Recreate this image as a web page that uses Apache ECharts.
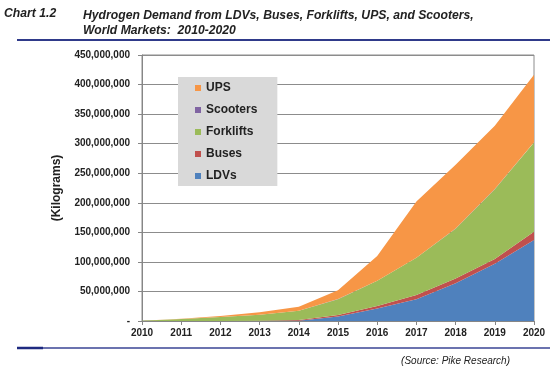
<!DOCTYPE html>
<html>
<head>
<meta charset="utf-8">
<script src="https://cdn.jsdelivr.net/npm/echarts@6/dist/echarts.min.js"></script>
<style>
html,body{margin:0;padding:0;background:#fff;}
#c{width:550px;height:370px;}
</style>
</head>
<body>
<div id="c"></div>
<script>
const years = ['2010','2011','2012','2013','2014','2015','2016','2017','2018','2019','2020'];
const ldvs = [0,0,0,0,500000,7500000,21000000,37000000,64000000,97000000,137000000];
const buses = [50000,100000,200000,300000,1000000,2500000,4500000,7000000,8000000,8000000,14000000];
const forklifts = [500000,3300000,6600000,10400000,16000000,27000000,42500000,63000000,84000000,118000000,151000000];
const scooters = [0,0,0,0,10000,50000,100000,200000,300000,400000,500000];
const ups = [0,600000,1700000,4300000,6500000,15000000,42000000,95000000,108000000,107000000,114000000];
const legendOrder = ['UPS','Scooters','Forklifts','Buses','LDVs'];
const yTicks = {min:0, max:450000000, interval:50000000};

const FONT = 'Liberation Sans, Arial, sans-serif';
const TXT = '#222222';
const chart = echarts.init(document.getElementById('c'), null, {renderer:'canvas'});

function area(name, data, color){
  return {
    name, type:'line', stack:'total', data,
    symbol:'none', showSymbol:false,
    lineStyle:{width:0}, itemStyle:{color},
    areaStyle:{color, opacity:1},
    emphasis:{disabled:true}
  };
}

chart.setOption({
  animation:false,
  textStyle:{fontFamily:FONT},
  grid:{left:142, right:16, top:55, bottom:49, show:true, borderColor:'#8c8c8c', borderWidth:1, backgroundColor:'transparent'},
  legend:{
    data:legendOrder, orient:'vertical', left:178, top:77,
    backgroundColor:'#d9d9d9', padding:[4,20,3,17],
    icon:'rect', itemWidth:6, itemHeight:6, itemGap:8,
    textStyle:{fontFamily:FONT, fontSize:12, fontWeight:'bold', color:TXT, lineHeight:14}
  },
  xAxis:{
    type:'category', data:years, boundaryGap:false,
    axisLine:{lineStyle:{color:'#868686'}},
    axisTick:{show:true, length:4, lineStyle:{color:'#868686'}},
    axisLabel:{fontFamily:FONT, fontSize:10, fontWeight:'bold', color:TXT, margin:7, interval:0},
    splitLine:{show:false}
  },
  yAxis:{
    type:'value', min:yTicks.min, max:yTicks.max, interval:yTicks.interval,
    name:'(Kilograms)', nameLocation:'middle', nameRotate:90, nameGap:79,
    nameTextStyle:{fontFamily:FONT, fontSize:12, fontWeight:'bold', color:TXT},
    axisLine:{show:true, lineStyle:{color:'#868686'}},
    axisTick:{show:true, length:4, lineStyle:{color:'#868686'}},
    axisLabel:{fontFamily:FONT, fontSize:10, fontWeight:'bold', color:TXT, margin:12,
      formatter:v => v === 0 ? '-' : v.toLocaleString('en-US')},
    splitLine:{lineStyle:{color:'#8c8c8c', width:1}}
  },
  series:[
    area('LDVs', ldvs, '#4F81BD'),
    area('Buses', buses, '#C0504D'),
    area('Forklifts', forklifts, '#9BBB59'),
    area('Scooters', scooters, '#8064A2'),
    area('UPS', ups, '#F79646')
  ],
  graphic:[
    {type:'text', left:4, top:8, style:{text:'Chart 1.2', font:'italic bold 12.2px '+FONT, fill:TXT}},
    {type:'text', left:83, top:8, style:{text:'Hydrogen Demand from LDVs, Buses, Forklifts, UPS, and Scooters,\nWorld Markets:  2010-2020', font:'italic bold 12.2px '+FONT, fill:TXT, lineHeight:15}},
    {type:'line', shape:{x1:17, y1:40, x2:550, y2:40}, style:{stroke:'#2f3a8a', lineWidth:2}},
    {type:'line', shape:{x1:17, y1:348, x2:550, y2:348}, style:{stroke:'#3a4594', lineWidth:1.5}},
    {type:'line', shape:{x1:17, y1:348, x2:43, y2:348}, style:{stroke:'#1e2a80', lineWidth:2.5}},
    {type:'text', right:40, top:356, style:{text:'(Source: Pike Research)', font:'italic 10px '+FONT, fill:TXT}}
  ]
});
</script>
</body>
</html>
